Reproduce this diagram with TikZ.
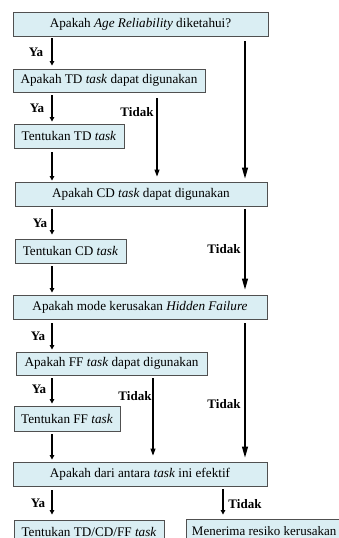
\documentclass[tikz,border=0pt]{standalone}
\usepackage{fontspec}
\setmainfont{Liberation Serif}
\usetikzlibrary{arrows.meta}
\definecolor{boxfill}{HTML}{DAEEF3}
\definecolor{boxline}{HTML}{505050}
\begin{document}
\begin{tikzpicture}[x=1pt,y=-1pt,
  box/.style={draw=boxline, fill=boxfill, line width=0.9pt, inner sep=0pt,
              font=\fontsize{13.2}{15}\selectfont},
  lbl/.style={font=\fontsize{13}{15}\selectfont\bfseries, inner sep=0pt},
  sarr/.style={line width=1.1pt, -{Triangle[length=4.5pt,width=4.5pt]}},
  marr/.style={line width=1.1pt, -{Triangle[length=7pt,width=5pt]}},
  larr/.style={line width=1.1pt, -{Triangle[length=11pt,width=6pt]}},
]
\useasboundingbox (0,0) rectangle (339,538);
\clip (0,0) rectangle (339,538);

\coordinate (xL) at (52,0);
\coordinate (xM) at (157,0);
\coordinate (xF) at (153,0);
\coordinate (xR) at (245,0);
\coordinate (xT) at (223,0);

\node[box, minimum width=255pt, minimum height=24pt] (b1) at (140.5,24) {Apakah \textit{Age Reliability} diketahui?};
\node[box, minimum width=192pt, minimum height=23pt] (b2) at (109,80.5) {Apakah TD \textit{task} dapat digunakan};
\node[box, minimum width=110pt, minimum height=24pt] (b3) at (69,136) {Tentukan TD \textit{task}};
\node[box, minimum width=252pt, minimum height=24pt] (b4) at (141,194) {Apakah CD \textit{task} dapat digunakan};
\node[box, minimum width=111pt, minimum height=24pt] (b5) at (70.5,251) {Tentukan CD \textit{task}};
\node[box, minimum width=254pt, minimum height=24pt] (b6) at (140,307) {Apakah mode kerusakan \textit{Hidden Failure}};
\node[box, minimum width=191pt, minimum height=23pt] (b7) at (111.5,363.5) {Apakah FF \textit{task} dapat digunakan};
\node[box, minimum width=106pt, minimum height=25pt] (b8) at (67,418.5) {Tentukan FF \textit{task}};
\node[box, minimum width=254pt, minimum height=24pt] (b9) at (140,474) {Apakah dari antara \textit{task} ini efektif};
\node[box, minimum width=150pt, minimum height=24pt] (b10) at (89,532) {Tentukan TD/CD/FF \textit{task}};
\node[box, minimum height=24pt, inner xsep=5.5pt, anchor=west, font=\fontsize{13}{15}\selectfont] (b11) at (186,531) {Menerima resiko kerusakan};

\draw[sarr, shorten <=2pt, shorten >=3pt] (b1.south -| xL) -- (b2.north -| xL);
\draw[larr, shorten <=5pt, shorten >=3pt] (b1.south -| xR) -- (b4.north -| xR);
\draw[sarr, shorten <=3pt, shorten >=2pt] (b2.south -| xL) -- (b3.north -| xL);
\draw[marr, shorten <=6pt, shorten >=5pt] (b2.south -| xM) -- (b4.north -| xM);
\draw[sarr, shorten <=4pt, shorten >=1pt] (b3.south -| xL) -- (b4.north -| xL);
\draw[sarr, shorten <=3pt, shorten >=4pt] (b4.south -| xL) -- (b5.north -| xL);
\draw[larr, shorten <=3pt, shorten >=5pt] (b4.south -| xR) -- (b6.north -| xR);
\draw[sarr, shorten <=3pt, shorten >=2pt] (b5.south -| xL) -- (b6.north -| xL);
\draw[sarr, shorten <=4pt, shorten >=2pt] (b6.south -| xL) -- (b7.north -| xL);
\draw[larr, shorten <=4pt, shorten >=4pt] (b6.south -| xR) -- (b9.north -| xR);
\draw[sarr, shorten <=3pt, shorten >=2pt] (b7.south -| xL) -- (b8.north -| xL);
\draw[marr, shorten <=3pt, shorten >=6pt] (b7.south -| xF) -- (b9.north -| xF);
\draw[sarr, shorten <=3pt, shorten >=2pt] (b8.south -| xL) -- (b9.north -| xL);
\draw[sarr, shorten <=4pt, shorten >=5pt] (b9.south -| xL) -- (b10.north -| xL);
\draw[sarr, shorten <=3pt, shorten >=4pt] (b9.south -| xT) -- (b11.north -| xT);

\node[lbl] (ya1) at (36,52) {Ya};
\node[lbl] (ya2) at (37,108) {Ya};
\node[lbl] (ya3) at (40,223) {Ya};
\node[lbl] (ya4) at (38,336) {Ya};
\node[lbl] (ya5) at (39,389) {Ya};
\node[lbl] (ya6) at (38,503) {Ya};
\node[lbl] (td1) at (137,112) {Tidak};
\node[lbl] (td2) at (224,249) {Tidak};
\node[lbl] (td3) at (224,404) {Tidak};
\node[lbl] (td4) at (135,396) {Tidak};
\node[lbl] (td5) at (245,504) {Tidak};
\end{tikzpicture}
\end{document}
